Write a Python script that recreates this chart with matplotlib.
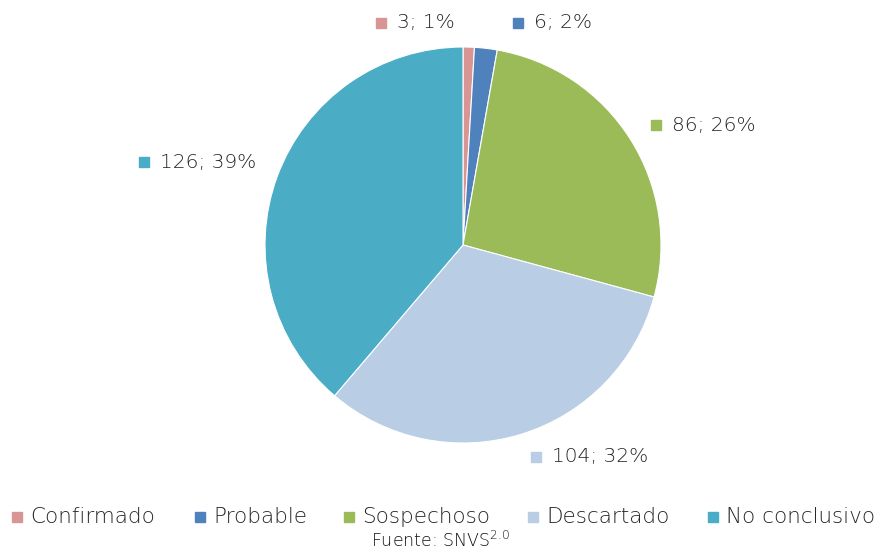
import matplotlib
matplotlib.use("Agg")
import matplotlib.pyplot as plt

categories = ["Confirmado", "Probable", "Sospechoso", "Descartado", "No conclusivo"]
values = [3, 6, 86, 104, 126]
percent_labels = ["1%", "2%", "26%", "32%", "39%"]
colors = ["#D99594", "#4F81BD", "#9BBB59", "#B9CDE5", "#4BACC6"]

plt.rcParams['font.family'] = ['DejaVu Sans']
TXT = "#262626"

W, H = 890, 553
fig = plt.figure(figsize=(W / 100, H / 100), dpi=100)
cx, cy, R = 463, 245, 198
ax = fig.add_axes([(cx - R) / W, (H - cy - R) / H, 2 * R / W, 2 * R / H])
ax.pie(values, colors=colors, startangle=90, counterclock=False, radius=1,
       wedgeprops=dict(edgecolor="white", linewidth=0.8))
ax.set_xlim(-1, 1)
ax.set_ylim(-1, 1)
ax.set_aspect("equal")
ax.axis("off")

# label marker positions in pixels (marker center)
label_pos = [(381, 23), (518, 23), (656, 125), (536, 457), (144, 162)]
for (px, py), v, p, c in zip(label_pos, values, percent_labels, colors):
    fx, fy = px / W, 1 - py / H
    fig.patches.append(plt.Rectangle((fx - 5 / W, fy - 5 / H), 10 / W, 10 / H,
                                     transform=fig.transFigure, color=c, figure=fig))
    fig.text((px + 16) / W, fy, f"{v}; {p}", ha="left", va="center",
             fontsize=14.5, color=TXT, fontweight="light")

# legend
leg_x = [17, 200, 349, 533, 713]
for lx, cat, c in zip(leg_x, categories, colors):
    fy = 1 - 517 / H
    fig.patches.append(plt.Rectangle((lx / W - 5 / W, fy - 5 / H), 10 / W, 10 / H,
                                     transform=fig.transFigure, color=c, figure=fig))
    fig.text((lx + 13) / W, fy, cat, ha="left", va="center", fontsize=15.5,
             color=TXT, fontweight="light")

fig.text(440 / W, 2 / H, r"Fuente: SNVS$^{\mathregular{2.0}}$", ha="center",
         va="bottom", fontsize=12.5, color="#111111", fontweight="light")

fig.savefig("out.png", dpi=100, facecolor="white")
